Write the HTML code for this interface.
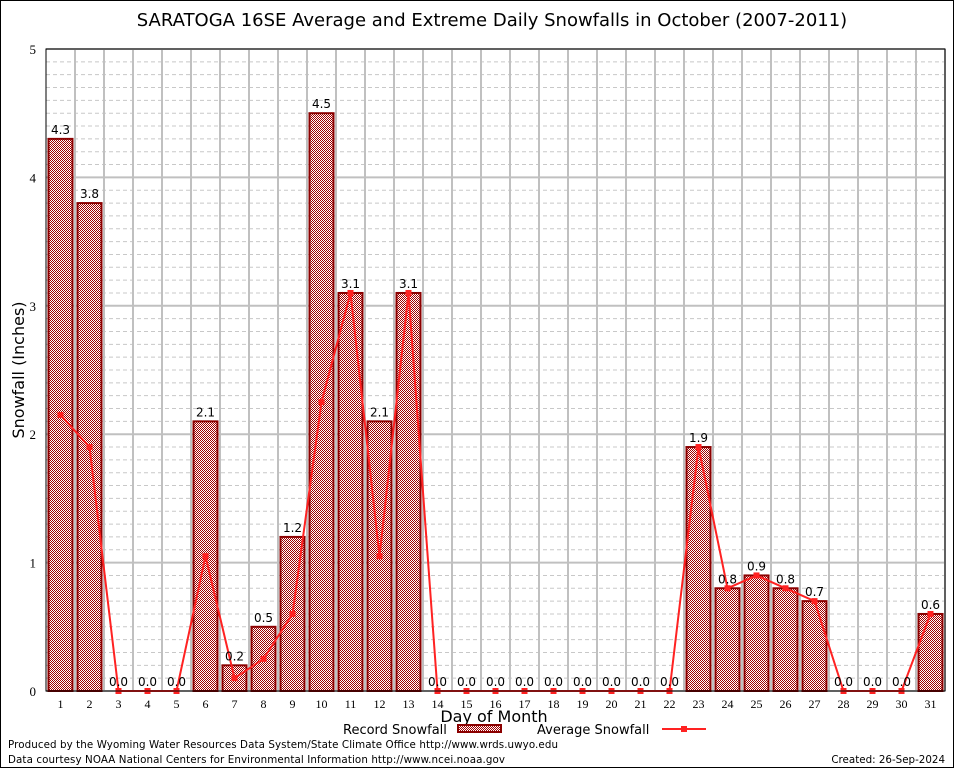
<!DOCTYPE html>
<html><head><meta charset="utf-8"><style>
body{margin:0;background:#fff}
svg{display:block}
text{font-family:"DejaVu Sans","Liberation Sans",sans-serif}
</style></head><body>
<svg id="c" width="954" height="768" xmlns="http://www.w3.org/2000/svg">
<defs><pattern id="chk" width="2" height="2" patternUnits="userSpaceOnUse"><rect width="2" height="2" fill="#fff"/><rect width="1" height="1" fill="#a00000"/><rect x="1" y="1" width="1" height="1" fill="#a00000"/></pattern></defs>
<rect x="0.5" y="0.5" width="953" height="767" fill="#fff" stroke="#000"/>
<text x="492" y="26" font-size="18" text-anchor="middle">SARATOGA 16SE Average and Extreme Daily Snowfalls in October (2007-2011)</text>
<g id="grid"></g><g id="bars"></g><g id="line"></g><g id="labels"></g>
<rect x="46" y="49" width="899" height="642" fill="none" stroke="#000"/>
<text transform="translate(24,370) rotate(-90)" font-size="16" text-anchor="middle">Snowfall (Inches)</text>
<text x="494" y="722" font-size="16" text-anchor="middle">Day of Month</text>
<g><text x="343" y="734" font-size="13">Record Snowfall</text><rect x="458" y="725" width="43" height="7" fill="url(#chk)" stroke="#8b0000" stroke-width="2"/></g>
<g><text x="537" y="734" font-size="13">Average Snowfall</text><line x1="662" y1="729" x2="706" y2="729" stroke="#f22" stroke-width="2"/><rect x="681" y="726" width="6" height="6" fill="#f22"/></g>
<text x="8" y="748" font-size="10.3" textLength="550">Produced by the Wyoming Water Resources Data System/State Climate Office http://www.wrds.uwyo.edu</text>
<text x="8" y="763" font-size="10.3" textLength="497">Data courtesy NOAA National Centers for Environmental Information http://www.ncei.noaa.gov</text>
<text x="945" y="763" font-size="10.3" text-anchor="end">Created:  26-Sep-2024</text>
</svg>
<script>
const days=[1,2,3,4,5,6,7,8,9,10,11,12,13,14,15,16,17,18,19,20,21,22,23,24,25,26,27,28,29,30,31];
const record=[4.3,3.8,0,0,0,2.1,0.2,0.5,1.2,4.5,3.1,2.1,3.1,0,0,0,0,0,0,0,0,0,1.9,0.8,0.9,0.8,0.7,0,0,0,0.6];
const average=[2.15,1.9,0,0,0,1.05,0.1,0.25,0.6,2.25,3.1,1.05,3.1,0,0,0,0,0,0,0,0,0,1.9,0.8,0.9,0.8,0.7,0,0,0,0.6];
const yTicks=[0,1,2,3,4,5];
const L=46,R=945,T=49,B=691,yMax=5;
const step=(R-L)/days.length;
const x=i=>L+step*(i+0.5);
const y=v=>B-(v/yMax)*(B-T);
const NS="http://www.w3.org/2000/svg";
function mk(tag,attrs,parent,txt){const e=document.createElementNS(NS,tag);for(const k in attrs)e.setAttribute(k,attrs[k]);if(txt!==undefined)e.textContent=txt;document.getElementById(parent).appendChild(e);return e;}
for(let k=1;k<yMax*10;k++){if(k%10===0)continue;const e=mk('line',{x1:L,x2:R,y1:y(k/10),y2:y(k/10),stroke:'#c8c8c8','stroke-dasharray':'4,3'},'grid');

}
yTicks.forEach(v=>{const e=mk('line',{x1:L,x2:R,y1:y(v),y2:y(v),stroke:'#c0c0c0','stroke-width':2},'grid');


const t=mk('text',{x:L-10,y:y(v)+5,'font-size':13,'text-anchor':'end',style:'font-family:"Liberation Serif",serif'},'labels',String(v));

});
days.forEach((d,i)=>{const e=mk('line',{x1:L+step*(i+1),x2:L+step*(i+1),y1:T,y2:B,stroke:'#c0c0c0','stroke-width':2},'grid');


const t=mk('text',{x:x(i),y:B+17,'font-size':12,'text-anchor':'middle',style:'font-family:"Liberation Serif",serif'},'labels',String(d));


if(record[i]>0){const b=mk('rect',{x:x(i)-12,y:y(record[i]),width:24,height:B-y(record[i]),fill:'url(#chk)',stroke:'#8b0000','stroke-width':2},'bars');

}
const v=mk('text',{x:x(i),y:y(record[i])-5,'font-size':12,'text-anchor':'middle'},'labels',record[i].toFixed(1));

});
const pl=mk('polyline',{points:average.map((v,i)=>x(i)+','+y(v)).join(' '),fill:'none',stroke:'#f22','stroke-width':2},'line');


average.forEach((v,i)=>{const p=mk('rect',{x:x(i)-3,y:y(v)-3,width:6,height:6,fill:'#f22'},'line');

});
</script>
</body></html>
